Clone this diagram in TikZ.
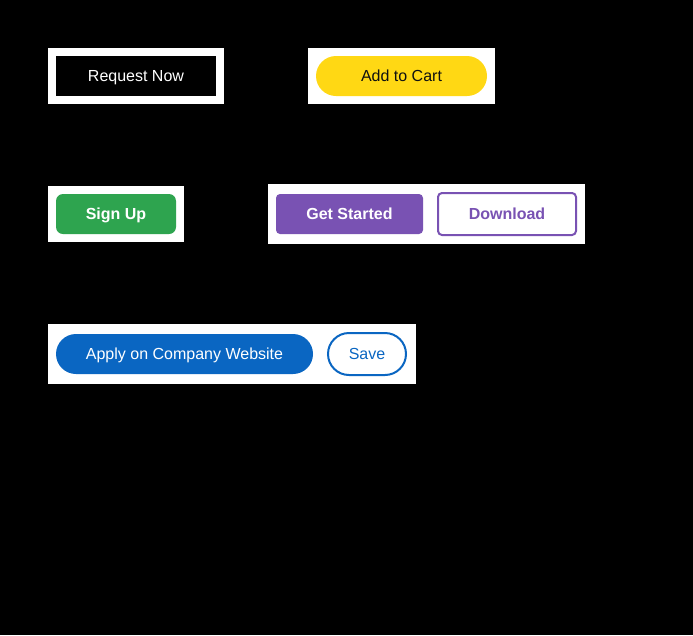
\documentclass[tikz,border=0pt]{standalone}
\usepackage{fontspec}
\setmainfont{Liberation Sans}
\definecolor{amzyellow}{HTML}{FFD814}
\definecolor{amztext}{HTML}{0F1111}
\definecolor{ghgreen}{HTML}{2EA44F}
\definecolor{bspurple}{HTML}{7952B3}
\definecolor{liblue}{HTML}{0A66C2}
\begin{document}
\begin{tikzpicture}[x=1pt,y=-1pt,
  panel/.style={fill=white, draw=none, inner sep=0pt, outer sep=0pt},
  btn/.style={inner sep=0pt, outer sep=0pt, text height=13.5pt, text depth=2.5pt, font=\fontsize{16}{19}\selectfont, align=center},
  btnbold/.style={btn, font=\fontsize{16}{19}\selectfont\bfseries}
]
\useasboundingbox (0,0) rectangle (693,635);
\fill[black] (0,0) rectangle (693,635);

% Row 1
\node[panel, minimum width=176pt, minimum height=56pt] (p1) at (136,76) {};
\node[btn, fill=black, text=white, minimum width=160pt, minimum height=40pt] (req) at (p1.center) {Request Now};

\node[panel, minimum width=187pt, minimum height=56pt] (p2) at (401.5,76) {};
\node[btn, fill=amzyellow, text=amztext, minimum width=171pt, minimum height=40pt, rounded corners=20pt] (cart) at (p2.center) {Add to Cart};

% Row 2
\node[panel, minimum width=136pt, minimum height=56pt] (p3) at (116,214) {};
\node[btnbold, fill=ghgreen, text=white, minimum width=120pt, minimum height=40pt, rounded corners=7pt] (sign) at (p3.center) {Sign Up};

\node[panel, minimum width=317pt, minimum height=60pt] (p4) at (426.5,214) {};
\node[btnbold, fill=bspurple, text=white, minimum width=147pt, minimum height=40pt, rounded corners=4pt] (start) at (349.5,214) {Get Started};
\node[btnbold, fill=white, draw=bspurple, line width=2pt, text=bspurple, minimum width=138pt, minimum height=42pt, rounded corners=4pt] (down) at (507,214) {Download};

% Row 3
\node[panel, minimum width=368pt, minimum height=60pt] (p5) at (232,354) {};
\node[btn, fill=liblue, text=white, minimum width=257pt, minimum height=40pt, rounded corners=20pt] (apply) at (184.5,354) {Apply on Company Website};
\node[btn, fill=white, draw=liblue, line width=2pt, text=liblue, minimum width=78pt, minimum height=42pt, rounded corners=21pt] (save) at (367,354) {Save};
\end{tikzpicture}
\end{document}
